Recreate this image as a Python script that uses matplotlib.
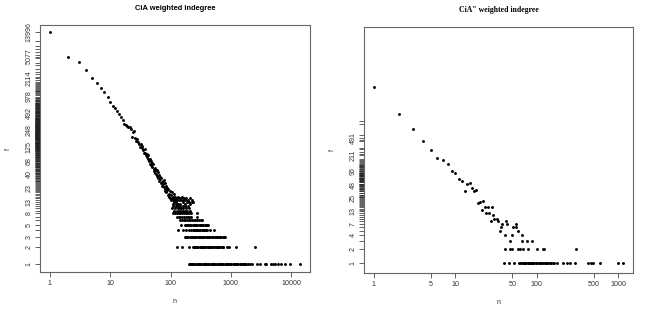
import matplotlib
matplotlib.use("Agg")
from matplotlib import pyplot as plt
from matplotlib.ticker import FixedLocator, NullFormatter, NullLocator

plt.rcParams["font.family"] = ["Liberation Sans", "DejaVu Sans"]

# ---- CiA weighted indegree (left panel) ----
# one point per n for the steep head and the scattered middle part
left_n = [1, 2, 3, 4, 5, 6, 7, 8, 9, 10, 11, 12, 13, 14, 15, 16, 17, 18, 19, 20,
          21, 22, 23, 24, 25, 26, 27, 28, 29, 30, 31, 32, 33, 34, 35, 36, 37, 38,
          39, 40, 41, 42, 43, 44, 45, 46, 47, 48, 49, 50, 52, 53, 54, 55, 56, 57,
          58, 59, 60, 62, 63, 64, 65, 66, 68, 69, 70, 72, 73, 74, 75, 77, 78, 80,
          81, 82, 84, 85, 87, 88, 90, 92, 93, 95, 97, 98, 100, 102, 104, 106, 108,
          110, 112, 115, 118, 120, 123, 126, 130, 134, 138, 142, 147, 152, 158,
          165, 172, 182, 195, 210, 230]
left_f = [13996, 5077, 4000, 2900, 2114, 1690, 1380, 1170, 978, 775, 670, 600, 540,
          470, 425, 380, 316, 300, 290, 282, 277, 260, 183, 230, 237, 178, 160, 169,
          150, 139, 124, 139, 130, 118, 108, 98, 112, 95, 88, 92, 80, 76, 88, 70, 75,
          62, 68, 58, 64, 55, 60, 50, 45, 52, 42, 47, 40, 48, 38, 44, 35, 39, 31, 36,
          33, 28, 34, 29, 25, 31, 27, 32, 24, 22, 28, 20, 25, 19, 23, 21, 17, 22, 18,
          16, 20, 15, 17, 14, 19, 15, 16, 14, 18, 15, 14, 16, 14, 15, 14, 16, 14, 15,
          14, 16, 14, 15, 14, 15, 14, 15, 14]

# n values of the horizontal bands at small frequencies
left_f13 = [112, 125, 163, 184, 203, 225, 238]
left_f12 = [111, 122, 135, 143, 171, 212]
left_f11 = [109, 121, 133, 145, 158, 171, 191]
left_f10 = [105, 117, 131, 141, 151, 163, 181, 205]
left_f9 = [114, 126, 139, 149, 161, 176, 189, 211]
left_f8 = [111, 119, 127, 136, 144, 154, 166, 177, 188, 201, 216, 271]
left_f7 = [128, 137, 146, 156, 167, 179, 192, 204, 218, 272]
left_f6 = [143, 153, 164, 175, 187, 199, 213, 227, 243, 259, 277, 296, 316, 327]
left_f5 = [151, 173, 180, 186, 194, 203, 212, 222, 232, 243, 254, 266, 278, 291,
           305, 319, 334, 350, 366, 383, 401, 416]
left_f4 = [134, 163, 181, 202, 221, 231, 241, 252, 263, 275, 287, 300, 313, 327,
           342, 357, 373, 389, 398, 451, 526]
left_f3 = [174, 182, 190, 198, 207, 216, 226, 236, 248, 258, 269, 281, 293, 306,
           320, 334, 349, 365, 381, 398, 416, 435, 455, 492, 514, 537, 561, 586,
           612, 639, 668, 698, 729, 762, 801]
left_f2 = [129, 152, 204, 233, 243, 254, 265, 277, 290, 303, 317, 331, 346, 362,
           378, 395, 413, 432, 451, 472, 493, 515, 538, 562, 587, 613, 641, 670,
           700, 731, 752, 851, 941, 1221, 2500]
left_f1 = [200, 209, 218, 228, 238, 249, 260, 272, 284, 297, 310, 324, 339, 354,
           370, 387, 404, 422, 441, 461, 482, 504, 527, 551, 576, 602, 629, 657,
           687, 718, 750, 784, 819, 856, 895, 935, 978, 1022, 1068, 1116, 1166,
           1219, 1274, 1331, 1391, 1454, 1519, 1588, 1659, 1734, 1812, 1894, 2114,
           2200, 2670, 3020, 3640, 3880, 4700, 5077, 5330, 6040, 6860, 7800, 9540,
           13996]
left_bands = [left_f1, left_f2, left_f3, left_f4, left_f5, left_f6, left_f7,
              left_f8, left_f9, left_f10, left_f11, left_f12, left_f13]

left_ylabels = [1, 2, 3, 5, 8, 13, 23, 40, 68, 125, 248, 492, 978, 2114, 5077, 13996]
left_xticks = [1, 10, 100, 1000, 10000]

# ---- CiA'' weighted indegree (right panel) ----
right_n = [1, 2, 3, 4, 5, 6, 7, 8, 9, 10, 11, 12, 13, 14, 15, 16, 17, 18, 19, 20,
           21, 22, 23, 24, 25, 26, 27, 28, 29, 30, 32, 33, 35, 36, 37, 41, 42, 43,
           47, 49, 51, 55, 56, 58, 65, 66, 76, 86]
right_f = [6400, 1660, 770, 437, 275, 182, 167, 135, 97, 89, 65, 60, 36, 50, 54, 41,
           36, 38, 20, 21, 14, 22, 16, 12, 16, 12, 8, 16, 11, 9, 9, 8, 5, 6, 7, 4, 8,
           7, 3, 4, 6, 7, 6, 5, 4, 3, 3, 3]
right_f2 = [40, 47, 50, 59, 62, 68, 78, 99, 117, 122, 305]
right_f1 = [39, 45, 52, 60, 63, 64, 67, 69, 70, 72, 74, 77, 79, 80, 82, 84, 87, 88,
            90, 93, 96, 100, 105, 109, 113, 117, 120, 124, 128, 133, 138, 143, 150,
            156, 164, 174, 211, 231, 254, 293, 427, 461, 491, 593, 983, 1150]

right_ylabels = [1, 2, 4, 7, 13, 25, 48, 95, 211, 491]
right_xticks = [1, 5, 10, 50, 100, 500, 1000]

fig = plt.figure(figsize=(6.5, 3.16), dpi=100)
ax1 = fig.add_axes([0.0615, 0.1392, 0.4154, 0.7816])
ax2 = fig.add_axes([0.56, 0.1361, 0.4138, 0.7785])


def draw(ax, xs, ys, bands, ylabels, xticks, xlim, ylim):
    ax.plot(xs, ys, "o", ms=2.1, mew=0, color="black")
    for i, band in enumerate(bands):
        ax.plot(band, [i + 1] * len(band), "o", ms=2.1, mew=0, color="black")
    ax.set_xscale("log")
    ax.set_yscale("log")
    ax.set_xlim(*xlim)
    ax.set_ylim(*ylim)
    # R axis(2, at = unique(n)): a tick for every value, labels where they fit
    rug = sorted(set(xs + [v for b in bands for v in b]))
    ax.set_yticks(ylabels)
    ax.set_yticklabels([str(v) for v in ylabels], rotation=90, va="center")
    ax.yaxis.set_minor_locator(FixedLocator(rug))
    ax.yaxis.set_minor_formatter(NullFormatter())
    ax.set_xticks(xticks)
    ax.set_xticklabels([str(v) for v in xticks])
    ax.xaxis.set_minor_locator(NullLocator())
    ax.tick_params(which="both", length=3.5, width=0.5, color="#222222",
                   labelsize=5.1, labelcolor="#333333", pad=2)
    for s in ax.spines.values():
        s.set_color("#666666")
        s.set_linewidth(0.8)
    ax.set_xlabel("n", fontsize=5, color="#333333", labelpad=8)
    ax.set_ylabel("f", fontsize=5, color="#333333", labelpad=10)


draw(ax1, left_n, left_f, left_bands, left_ylabels, left_xticks,
     (0.683, 20500), (0.72, 18530))
draw(ax2, right_n + right_f2 + right_f1,
     right_f + [2] * len(right_f2) + [1] * len(right_f1),
     [], right_ylabels, right_xticks, (0.754, 1507), (0.608, 125000))

ax1.set_title("CiA weighted indegree", fontsize=5.4, fontweight="bold", pad=11)
ax2.set_title("CiA\u2033 weighted indegree", fontsize=5.6, fontweight="bold",
              family=["Liberation Serif", "DejaVu Serif"], pad=11)

plt.savefig("out.png", dpi=100)
